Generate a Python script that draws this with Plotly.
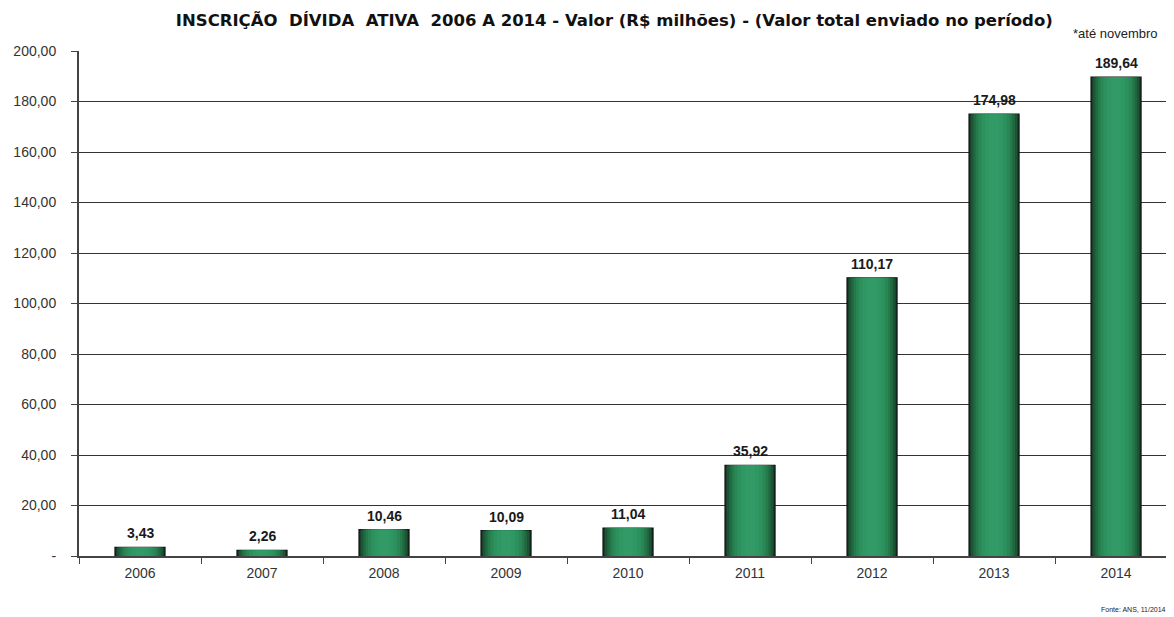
import plotly.graph_objects as go

anos = ["2006", "2007", "2008", "2009", "2010", "2011", "2012", "2013", "2014"]
valores = [3.43, 2.26, 10.46, 10.09, 11.04, 35.92, 110.17, 174.98, 189.64]
y_ticks = [0, 20, 40, 60, 80, 100, 120, 140, 160, 180, 200]
y_ticktext = ["-", "20,00", "40,00", "60,00", "80,00", "100,00", "120,00",
              "140,00", "160,00", "180,00", "200,00"]

# faixas de cor para simular o degradê horizontal das barras
camadas = [
    (0.41, "#163f28"),
    (0.38, "#1c5535"),
    (0.34, "#216a41"),
    (0.30, "#257a4b"),
    (0.26, "#298755"),
    (0.21, "#2c915d"),
    (0.15, "#2f9763"),
    (0.08, "#319a66"),
]

fig = go.Figure()

for i, (largura, cor) in enumerate(camadas):
    externa = i == 0
    fig.add_trace(go.Bar(
        x=anos, y=valores, width=largura,
        marker=dict(color=cor,
                    line=dict(color="#111111", width=1.2 if externa else 0)),
        hoverinfo="y" if externa else "skip",
        showlegend=False,
    ))

# rótulos de valor acima das barras (x em índice, pois o eixo é categórico)
for i, v in enumerate(valores):
    fig.add_annotation(
        x=i, y=v, xref="x", yref="y", yanchor="bottom", yshift=4,
        text="<b>" + f"{v:.2f}".replace(".", ",") + "</b>",
        showarrow=False,
        font=dict(family="Liberation Sans, Arial", size=14, color="#1a1a1a"),
    )

# a página tem 8px de margem no body: a figura vai de (8, 8) a (1174, 617)
fig.update_layout(
    width=1166, height=609,
    barmode="overlay",
    plot_bgcolor="white", paper_bgcolor="white",
    margin=dict(l=71, r=0, t=43, b=61, autoexpand=False),
    font=dict(family="Liberation Sans, Arial", size=13, color="#333333"),
    title=dict(
        text="<b>INSCRIÇÃO  DÍVIDA  ATIVA  2006 A 2014 - Valor (R$ milhões) - (Valor total enviado no período)</b>",
        x=0.52, xanchor="center", y=0.98, yanchor="middle",
        font=dict(family="DejaVu Sans, Verdana", size=16.5, color="#111111"),
    ),
    xaxis=dict(
        type="category", range=[-0.5, 8.475], automargin=False,
        showline=True, linecolor="#444444", linewidth=2,
        ticks="outside", ticklen=6, tickcolor="#444444",
        tickson="boundaries", showgrid=False, ticklabelstandoff=3,
        tickfont=dict(size=14, color="#333333"),
    ),
    yaxis=dict(
        range=[0, 200], tickvals=y_ticks, ticktext=y_ticktext, automargin=False,
        showline=True, linecolor="#444444", linewidth=2,
        ticks="outside", ticklen=6, tickcolor="#444444",
        ticklabelstandoff=12,
        showgrid=True, gridcolor="#333333", gridwidth=1.2,
        zeroline=False,
        tickfont=dict(size=14, color="#333333"),
    ),
)

fig.add_annotation(
    text="*até novembro", xref="paper", yref="paper", x=0.906, y=1.0,
    xanchor="left", yanchor="middle", yshift=18, showarrow=False,
    font=dict(family="Liberation Sans, Arial", size=13, color="#222222"),
)
fig.add_annotation(
    text="Fonte: ANS, 11/2014", xref="paper", yref="paper", x=0.9945, y=0,
    xanchor="right", yanchor="middle", yshift=-53, showarrow=False,
    font=dict(family="Liberation Sans, Arial", size=7, color="#222222"),
)

fig.write_html("out.html")
